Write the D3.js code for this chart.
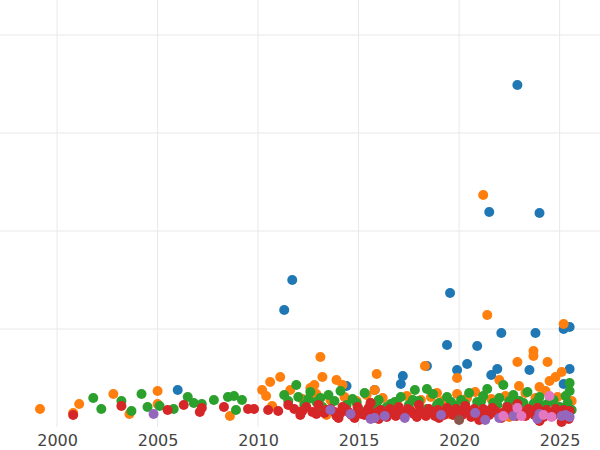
<!DOCTYPE html>
<html>
<head>
<meta charset="utf-8">
<script src="https://cdn.jsdelivr.net/npm/d3@7"></script>
<style>
  body { margin: 0; background: #fff; }
  text { font-family: "DejaVu Sans", sans-serif; }
</style>
</head>
<body>
<div id="chart"></div>
<script>
// [year, value] pairs per series
const blue = [[2006.0,37],[2011.3,117],[2011.7,147],[2014.4,41],[2015.8,37],[2017.2,51],[2017.1,43],[2018.4,61],
  [2019.4,82],[2019.55,134],[2019.9,57],[2020.4,63],[2020.9,81],[2021.5,215],[2021.6,52],[2021.9,58],[2022.1,94],
  [2022.9,342],[2023.5,57],[2023.8,94],[2024.0,214],[2025.2,98],[2025.5,100],[2025.5,58],[2025.2,43]];
const orange = [[1999.15,18],[2000.8,14],[2001.1,23],[2002.8,33],[2003.6,13],[2005.0,36],[2005.0,23],[2008.6,11],
  [2010.2,37],[2010.4,31],[2010.6,45],[2010.7,21],[2011.1,50],[2011.6,37],[2013.1,70],[2013.2,50],[2012.8,42],
  [2012.6,39],[2013.9,47],[2014.2,42],[2015.9,53],[2015.8,37],[2018.3,61],[2018.9,34],[2019.9,49],[2021.2,232],
  [2021.4,112],[2022.0,47],[2022.9,65],[2022.98,41],[2023.7,76],[2023.7,71],[2024.0,40],[2024.4,65],[2024.5,46],
  [2024.8,50],[2025.2,103],[2025.1,55],[2025.6,26],
  [2012.2,28],[2012.9,33],[2013.6,27],[2014.3,30],[2014.9,26],[2015.4,32],[2016.2,29],[2016.9,25],[2017.4,31],
  [2018.1,27],[2018.6,30],[2019.2,26],[2019.9,33],[2020.4,29],[2020.8,35],[2021.6,28],[2022.3,31],[2022.8,27],
  [2023.3,34],[2023.8,29],[2024.3,36],[2024.9,30],[2025.5,25],[2016.5,17],[2019.5,13],[2022.5,10],[2024.6,12],[2013.4,12]];
const green = [[2001.8,29],[2002.2,18],[2003.2,26],[2003.7,16],[2004.2,33],[2004.5,20],[2005.1,21],[2005.8,18],
  [2006.5,30],[2006.8,24],[2007.2,23],[2007.8,27],[2008.5,30],[2008.8,31],[2008.9,17],[2009.2,27],[2011.9,42],
  [2011.3,32],[2025.5,44],[2025.5,36],[2022.2,42],[2018.4,38],[2017.8,37],
  [2012.0,30],[2012.3,22],[2012.6,35],[2012.9,25],[2013.2,20],[2013.5,32],[2013.8,26],[2014.1,36],[2014.4,22],
  [2014.7,28],[2015.0,18],[2015.3,34],[2015.6,24],[2016.0,27],[2016.4,20],[2016.8,25],[2017.1,30],[2017.5,22],
  [2018.0,26],[2018.4,18],[2018.7,33],[2019.0,24],[2019.4,30],[2019.8,21],[2020.1,27],[2020.5,34],[2020.9,25],
  [2021.2,31],[2021.4,38],[2021.7,24],[2022.0,29],[2022.4,21],[2022.7,32],[2023.0,26],[2023.4,35],[2023.7,23],
  [2024.0,30],[2024.3,22],[2024.7,27],[2025.0,20],[2025.3,31],[2025.6,17],
  [2011.5,26],[2012.5,28],[2013.1,29],[2014.9,24],[2015.9,21],[2016.6,23],[2017.7,27],[2018.9,22],[2019.6,25],
  [2020.3,23],[2021.1,26],[2021.9,22],[2022.5,26],[2023.2,24],[2023.9,26],[2024.5,25],[2025.4,24]];
const red = [[2000.8,12],[2003.2,21],[2005.5,17],[2006.3,22],[2007.1,15],[2007.2,19],[2008.3,20],[2009.5,18],
  [2009.8,18],[2010.5,17],[2011.0,16],[2011.5,22],
  [2012.1,12],[2012.4,20],[2012.7,15],[2013.0,22],[2013.3,14],[2013.6,18],[2013.9,11],[2014.2,20],[2014.5,15],
  [2014.8,9],[2015.0,16],[2015.3,12],[2015.5,19],[2015.8,13],[2016.1,17],[2016.4,10],[2016.7,15],[2017.0,20],
  [2017.3,12],[2017.6,16],[2017.9,10],[2018.2,14],[2018.5,18],[2018.8,11],[2019.1,15],[2019.4,19],[2019.7,12],
  [2020.0,16],[2020.3,21],[2020.6,10],[2020.9,14],[2021.2,18],[2021.5,12],[2021.8,16],[2022.1,9],[2022.4,20],
  [2022.7,13],[2023.0,17],[2023.3,11],[2023.6,15],[2023.9,19],[2024.2,10],[2024.5,14],[2024.8,18],[2025.1,5],
  [2025.3,12],[2025.5,16],[2014.0,9],[2016.0,8],[2019.0,9],[2021.0,7],[2024.0,6],[2018.0,22],[2015.6,24],[2022.9,23],
  [2011.8,18],[2012.2,16],[2012.9,13],[2013.4,17],[2013.8,15],[2014.1,14],[2014.35,18],[2014.65,12],[2014.95,20],
  [2015.15,13],[2015.4,16],[2015.7,10],[2015.95,15],[2016.2,12],[2016.55,18],[2016.85,11],[2017.15,15],[2017.45,18],
  [2017.75,13],[2018.05,16],[2018.35,11],[2018.65,15],[2018.95,17],[2019.25,12],[2019.55,15],[2019.85,18],[2020.15,12],
  [2020.45,15],[2020.75,18],[2021.05,13],[2021.35,16],[2021.65,19],[2021.95,13],[2022.25,15],[2022.55,17],[2022.85,11],
  [2023.15,14],[2023.45,18],[2023.75,12],[2024.05,15],[2024.35,17],[2024.65,11],[2024.95,14],[2025.2,17],[2025.45,8]];
const purple = [[2004.8,13],[2013.6,17],[2014.6,13],[2015.6,8],[2015.8,9],[2016.3,11],[2017.3,9],[2019.1,12],
  [2020.8,14],[2021.3,7],[2022.0,9],[2022.7,11],[2023.9,8],[2024.0,13],[2025.1,11],[2025.3,12],[2025.5,10]];
const brown = [[2020.0,7]];
const pink = [[2022.2,11],[2022.9,19],[2023.1,11],[2024.5,31],[2024.2,12],[2024.6,10]];

const series = [
  {data: blue, color: "#1f77b4"},
  {data: orange, color: "#ff7f0e"},
  {data: green, color: "#2ca02c"},
  {data: red, color: "#d62728"},
  {data: purple, color: "#9467bd"},
  {data: brown, color: "#8c564b"},
  {data: pink, color: "#e377c2"}
];
const xTicks = [2000, 2005, 2010, 2015, 2020, 2025];
const yGrid = [98, 196, 294, 392];

const width = 600, height = 450, plotBottom = 427;

const svg = d3.select("#chart").append("svg")
  .attr("width", width).attr("height", height);

const x = d3.scaleLinear().domain([1997.16, 2027.01]).range([0, width]);
const y = d3.scaleLinear().domain([0, 427]).range([plotBottom, 0]);

// grid
svg.append("g").selectAll("line.v").data(xTicks).enter().append("line")
  .attr("x1", d => x(d)).attr("x2", d => x(d))
  .attr("y1", 0).attr("y2", plotBottom)
  .attr("stroke", "#e8e8e8").attr("stroke-width", 1);
svg.append("g").selectAll("line.h").data(yGrid).enter().append("line")
  .attr("x1", 0).attr("x2", width)
  .attr("y1", d => y(d)).attr("y2", d => y(d))
  .attr("stroke", "#e8e8e8").attr("stroke-width", 1);

// x axis
const xAxis = svg.append("g")
  .attr("transform", `translate(0,${plotBottom})`)
  .call(d3.axisBottom(x).tickValues(xTicks).tickFormat(d3.format("d")).tickSize(0).tickPadding(8));
xAxis.select(".domain").remove();
xAxis.selectAll("text").attr("font-size", 16).attr("fill", "#444")
  .attr("font-family", "DejaVu Sans, sans-serif");

// points
series.forEach(s => {
  svg.append("g").selectAll("circle").data(s.data).enter().append("circle")
    .attr("cx", d => x(d[0]))
    .attr("cy", d => y(d[1]))
    .attr("r", 5)
    .attr("fill", s.color);
});
</script>
</body>
</html>
